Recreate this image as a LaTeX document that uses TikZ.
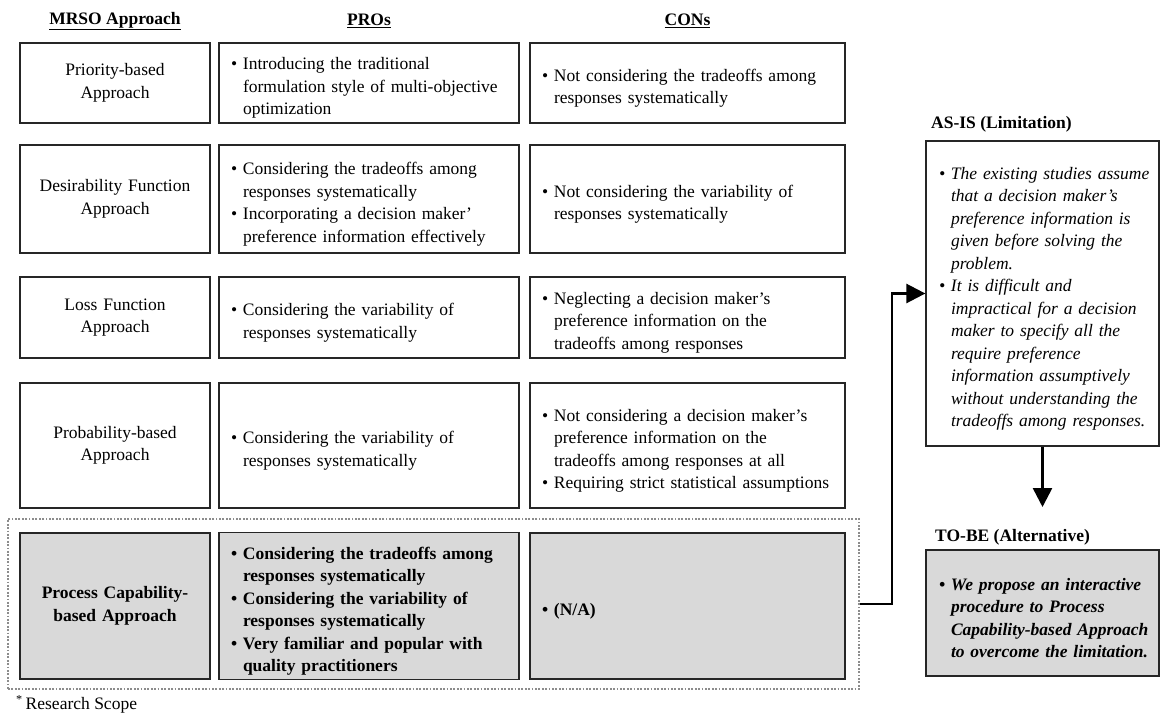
\documentclass[tikz,border=0pt]{standalone}
\usepackage{fontspec}
\setmainfont{Liberation Serif}
\usetikzlibrary{arrows.meta}
\definecolor{cellgray}{HTML}{D9D9D9}
\definecolor{edge}{HTML}{262626}
\definecolor{dotgray}{HTML}{8C8C8C}
\newcommand{\bul}[1]{\par\noindent\hangindent=12pt\hangafter=1\makebox[12pt][l]{\textbullet}#1\par}
\hyphenpenalty=10000
\begin{document}
\begin{tikzpicture}[x=1pt,y=-1pt,
  every node/.style={font=\fontsize{17.5}{22.5}\selectfont, inner sep=0pt},
  cell/.style={draw=edge, line width=1.3pt, inner xsep=12pt, inner ysep=4pt, anchor=center},
  namecol/.style={cell, minimum width=190pt, text width=166pt, align=center},
  procol/.style={cell, minimum width=300pt, text width=276pt, align=left},
  concol/.style={cell, minimum width=315pt, text width=291pt, align=left},
  hilite/.style={fill=cellgray, font=\fontsize{17.5}{22.5}\selectfont\bfseries},
  hdr/.style={font=\fontsize{17.5}{21}\selectfont\bfseries},
  sidebox/.style={cell, minimum width=233pt, text width=227pt, inner xsep=3pt, align=left,
    execute at begin node={\leftskip=10pt\relax}},
  scopebox/.style={draw=dotgray, line width=1.8pt, dash pattern=on 1.8pt off 1.6pt},
  conn/.style={line width=2.6pt, -{Triangle[length=19pt,width=19pt]}}]
\fill[white] (0,0) rectangle (1162,717);
\useasboundingbox (0,0) rectangle (1162,717);

% headers
\node[hdr] (h1) at (115,21) {\underline{MRSO Approach}};
\node[hdr] (h2) at (369,21) {\underline{PROs}};
\node[hdr] (h3) at (687.5,21) {\underline{CONs}};

% row 1
\node[namecol, minimum height=80pt] (r1a) at (115,83) {Priority-based\\Approach};
\node[procol, minimum height=80pt] (r1b) at (369,83) {\bul{Introducing the traditional\newline formulation style of multi-objective\newline optimization}};
\node[concol, minimum height=80pt] (r1c) at (687.5,83) {\bul{Not considering the tradeoffs among\newline responses systematically}};

% row 2
\node[namecol, minimum height=108pt] (r2a) at (115,199) {Desirability Function\\Approach};
\node[procol, minimum height=108pt] (r2b) at (369,199) {\bul{Considering the tradeoffs among\newline responses systematically}\bul{Incorporating a decision maker’\newline preference information effectively}};
\node[concol, minimum height=108pt] (r2c) at (687.5,199) {\bul{Not considering the variability of\newline responses systematically}};

% row 3
\node[namecol, minimum height=81pt] (r3a) at (115,317.5) {Loss Function\\Approach};
\node[procol, minimum height=81pt] (r3b) at (369,317.5) {\bul{Considering the variability of\newline responses systematically}};
\node[concol, minimum height=81pt] (r3c) at (687.5,317.5) {\bul{Neglecting a decision maker’s\newline preference information on the\newline tradeoffs among responses}};

% row 4
\node[namecol, minimum height=125pt] (r4a) at (115,445.5) {Probability-based\\Approach};
\node[procol, minimum height=125pt] (r4b) at (369,445.5) {\bul{Considering the variability of\newline responses systematically}};
\node[concol, minimum height=125pt] (r4c) at (687.5,445.5) {\bul{Not considering a decision maker’s\newline preference information on the\newline tradeoffs among responses at all}\bul{Requiring strict statistical assumptions}};

% research scope
\node[scopebox, minimum width=851pt, minimum height=170pt] (scope) at (433.5,604) {};
\node[namecol, hilite, minimum height=146pt] (r5a) at (115,606) {Process Capability-\\based Approach};
\node[procol, hilite, minimum height=146pt] (r5b) at (369,606) {\bul{Considering the tradeoffs among\newline responses systematically}\bul{Considering the variability of\newline responses systematically}\bul{Very familiar and popular with\newline quality practitioners}};
\node[concol, hilite, minimum height=146pt] (r5c) at (687.5,606) {\bul{(N/A)}};
\node[anchor=west] (note) at (16,704) {\textsuperscript{*}\,Research Scope};

% right side
\node[hdr, anchor=west] (asistitle) at (931,124) {AS-IS (Limitation)};
\node[sidebox, minimum height=305pt, font=\fontsize{17.5}{22.5}\selectfont\itshape] (asis) at (1042.5,293.5) {\bul{The existing studies assume\newline that a decision maker’s\newline preference information is\newline given before solving the\newline problem.}\bul{It is difficult and\newline impractical for a decision\newline maker to specify all the\newline require preference\newline information assumptively\newline without understanding the\newline tradeoffs among responses.}};
\node[hdr, anchor=west] (tobetitle) at (935,537) {TO-BE (Alternative)};
\node[sidebox, fill=cellgray, minimum height=126pt, font=\fontsize{17.5}{22.5}\selectfont\bfseries\itshape] (tobe) at (1042.5,613) {\bul{We propose an interactive\newline procedure to Process\newline Capability-based Approach\newline to overcome the limitation.}};

% connectors
\coordinate (elbow) at (892,450);
\coordinate (downtip) at (1042.5,507);
\draw[conn] (scope.east) -| (elbow) |- (asis.west);
\draw[conn] (asis.south) -- (downtip);
\end{tikzpicture}
\end{document}
